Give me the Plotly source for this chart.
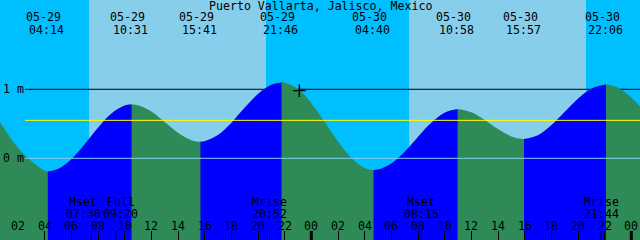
import plotly.graph_objects as go

# ---------------- data ----------------
title = "Puerto Vallarta, Jalisco, Mexico"
day_names = ["05-29", "05-30"]

# tide extremes
ext_date = ["05-29", "05-29", "05-29", "05-29", "05-30", "05-30", "05-30", "05-30"]
ext_time = ["04:14", "10:31", "15:41", "21:46", "04:40", "10:58", "15:57", "22:06"]
ext_height = [-0.19, 0.78, 0.24, 1.10, -0.17, 0.71, 0.28, 1.07]
ext_kind = ["L", "H", "L", "H", "L", "H", "L", "H"]

# hourly tide heights (m), hours 0..49 after 05-29 00:00
hour_height = [0.72, 0.42, 0.15, -0.04, -0.18,
               -0.155, -0.013, 0.205, 0.444, 0.647, 0.764,
               0.768, 0.678, 0.526, 0.369, 0.263,
               0.246, 0.336, 0.513, 0.731, 0.933, 1.067,
               1.096, 1.003, 0.799, 0.528, 0.243, 0.005, -0.140,
               -0.164, -0.076, 0.096, 0.310, 0.515, 0.660,
               0.710, 0.666, 0.556, 0.423, 0.317,
               0.280, 0.335, 0.478, 0.670, 0.864, 1.009, 1.069,
               1.022, 0.88, 0.67]

# sun
sun_date = ["05-29", "05-30"]
sunrise = ["07:20", "07:20"]
sunset = ["20:36", "20:36"]

# moon events
moon_name = ["Mset", "Full", "Mrise", "Mset", "Mrise"]
moon_date = ["05-29", "05-29", "05-29", "05-30", "05-30"]
moon_time = ["07:30", "09:20", "20:52", "08:15", "21:44"]

# axis
tick_hours = list(range(2, 50, 2))
tick_labels = ["02", "04", "06", "08", "10", "12", "14", "16", "18", "20", "22", "00",
               "02", "04", "06", "08", "10", "12", "14", "16", "18", "20", "22", "00"]
level_values = [0, 1]
level_labels = ["0 m", "1 m"]
mean_level = 0.55
now_time = "23:06"
now_date = "05-29"
now_height = 0.98

# ---------------- helpers ----------------
def to_hours(date, hm):
    h, m = hm.split(":")
    return day_names.index(date) * 24 + int(h) + int(m) / 60.0

X0, X1 = 0.65, 48.65
Y0, Y1 = -1.184, 2.294
FONT = dict(family="DejaVu Sans Mono", size=11.6, color="black")
BLUE = "#0000FF"
GREEN = "#2E8B57"
NIGHT = "#00BFFF"
DAY = "#87CEEB"

ext_t = [to_hours(d, t) for d, t in zip(ext_date, ext_time)]

pts = [(t, h) for t, h in zip(ext_t, ext_height)]
for i, h in enumerate(hour_height):
    if all(abs(i - te) > 0.12 for te in ext_t):
        pts.append((float(i), h))
pts.sort()

fig = go.Figure()

def add_fill(ta, tb, color):
    seg = [(t, h) for t, h in pts if ta - 1e-9 <= t <= tb + 1e-9]
    xs = [p[0] for p in seg]
    ys = [p[1] for p in seg]
    fig.add_trace(go.Scatter(x=[xs[0], xs[-1]], y=[-3, -3], mode="lines",
                             line=dict(width=0), hoverinfo="skip", showlegend=False))
    fig.add_trace(go.Scatter(x=xs, y=ys, mode="lines", fill="tonexty",
                             fillcolor=color, line=dict(width=0, shape="spline", color=color),
                             hoverinfo="skip", showlegend=False))

# whole curve green (falling), then rising parts blue on top
add_fill(pts[0][0], pts[-1][0], GREEN)
for i in range(len(ext_t) - 1):
    if ext_kind[i] == "L":
        add_fill(ext_t[i], ext_t[i + 1], BLUE)

# "now" marker
fig.add_trace(go.Scatter(x=[to_hours(now_date, now_time)], y=[now_height], mode="markers",
                         marker=dict(symbol="cross-thin", size=9,
                                     line=dict(width=1.3, color="black")),
                         hoverinfo="skip", showlegend=False))

shapes = []
# daylight
for d, sr, ss in zip(sun_date, sunrise, sunset):
    shapes.append(dict(type="rect", xref="x", yref="paper", x0=to_hours(d, sr),
                       x1=to_hours(d, ss), y0=0, y1=1, fillcolor=DAY,
                       line=dict(width=0), layer="below"))
# 1 m line (under curve)
shapes.append(dict(type="line", xref="paper", yref="y", x0=25 / 640, x1=1,
                   y0=level_values[1], y1=level_values[1],
                   line=dict(color="black", width=1), layer="below"))
# datum and mean lines (over curve)
shapes.append(dict(type="line", xref="paper", yref="y", x0=25 / 640, x1=1,
                   y0=level_values[0], y1=level_values[0],
                   line=dict(color=DAY, width=1), layer="above"))
shapes.append(dict(type="line", xref="paper", yref="y", x0=25 / 640, x1=1,
                   y0=mean_level, y1=mean_level,
                   line=dict(color="yellow", width=1), layer="above"))
# midnight heavy ticks
for t in tick_hours:
    if t % 24 == 0:
        shapes.append(dict(type="line", xref="x", yref="paper", x0=t, x1=t,
                           y0=0, y1=9 / 240, line=dict(color="black", width=3),
                           layer="above"))
# moon event ticks
for d, tm in zip(moon_date, moon_time):
    t = to_hours(d, tm)
    shapes.append(dict(type="line", xref="x", yref="paper", x0=t, x1=t,
                       y0=0, y1=9 / 240, line=dict(color="black", width=1),
                       layer="above"))

annotations = [dict(text=title, x=0.5, y=1 - 5.5 / 240, xref="paper", yref="paper",
                    xanchor="center", yanchor="middle", showarrow=False, font=FONT)]
for t, d, tm in zip(ext_t, ext_date, ext_time):
    annotations.append(dict(text=d, x=t, y=1 - 17 / 240, xref="x", yref="paper",
                            xanchor="center", yanchor="middle", xshift=-4,
                            showarrow=False, font=FONT))
    annotations.append(dict(text=tm, x=t, y=1 - 29.5 / 240, xref="x", yref="paper",
                            xanchor="center", yanchor="middle", xshift=-1,
                            showarrow=False, font=FONT))
moon_nudge = {0: -8, 1: 5}
for i, (n, d, tm) in enumerate(zip(moon_name, moon_date, moon_time)):
    t = to_hours(d, tm)
    s = moon_nudge.get(i, 0)
    annotations.append(dict(text=n, x=t, y=1 - 201.5 / 240, xref="x", yref="paper",
                            xanchor="center", yanchor="middle", xshift=s,
                            showarrow=False, font=FONT))
    annotations.append(dict(text=tm, x=t, y=1 - 213.5 / 240, xref="x", yref="paper",
                            xanchor="center", yanchor="middle", xshift=s,
                            showarrow=False, font=FONT))
# hour labels along the time axis
for t, lab in zip(tick_hours, tick_labels):
    annotations.append(dict(text=lab, x=t, y=1 - 226 / 240, xref="x", yref="paper",
                            xanchor="center", yanchor="middle",
                            showarrow=False, font=FONT))

fig.update_layout(
    width=640, height=240, margin=dict(l=0, r=0, t=0, b=0),
    paper_bgcolor=NIGHT, plot_bgcolor=NIGHT,
    shapes=shapes, annotations=annotations, showlegend=False,
    xaxis=dict(range=[X0, X1], showgrid=False, zeroline=False, showline=False,
               tickvals=tick_hours, ticks="inside", showticklabels=False,
               ticklen=9, tickwidth=1, tickcolor="black", fixedrange=True),
    yaxis=dict(range=[Y0, Y1], showgrid=False, zeroline=False, showline=False,
               tickvals=level_values, ticktext=level_labels, ticks="",
               ticklabelposition="inside", tickfont=FONT, fixedrange=True),
)

fig.write_html("out.html")
